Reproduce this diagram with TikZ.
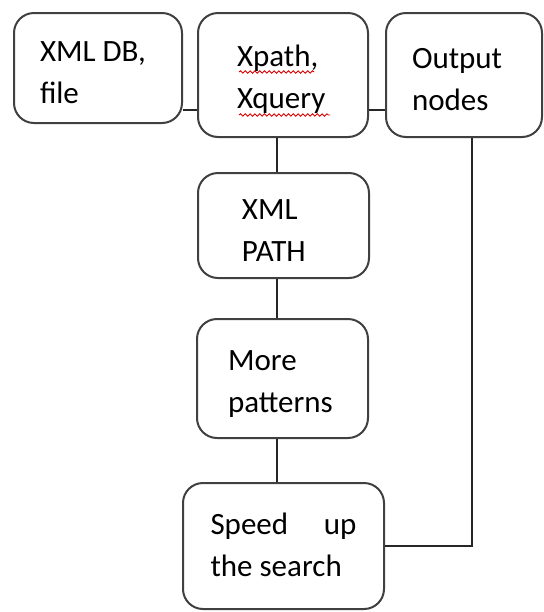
\documentclass[tikz,border=0pt]{standalone}
\usepackage{fontspec}
\setmainfont{Carlito}
\usetikzlibrary{decorations.pathmorphing}
\begin{document}
\begin{tikzpicture}[x=0.5pt,y=-0.5pt,
                box/.style={rectangle,rounded corners=10pt,draw=black!75,line width=1pt,
                align=flush left,inner sep=0pt,font=\fontsize{15.5}{21}\selectfont,
                execute at begin node={\hyphenpenalty=10000\rule{0pt}{15pt}}},
                link/.style={draw=black!85,line width=0.8pt},
                spell/.style={draw=red!85!black,line width=0.45pt,
                decorate,decoration={snake,amplitude=0.6pt,segment length=2.4pt}}]
                \useasboundingbox (0,0) rectangle (544,612);
                \node (db) at (98,68) [box,minimum width=84pt,minimum height=55pt,
                text width=58pt] {XML DB,\\file};
                \node (xpath) at (283,75) [box,minimum width=85pt,minimum height=62pt,
                text width=46pt] {Xpath,\\Xquery};
                \node (out) at (464,75) [box,minimum width=78pt,minimum height=62pt,
                text width=52pt] {Output\\nodes};
                \node (xmlpath) at (283.5,225.5) [box,minimum width=85.5pt,minimum height=52.5pt,
                text width=41.5pt] {XML\\PATH};
                \node (more) at (282.5,378.5) [box,minimum width=85.5pt,minimum height=59.5pt,
                text width=54.5pt] {More\\patterns};
                \node (speed) at (283.5,546) [box,minimum width=100.5pt,minimum height=63pt,
                text width=73pt] {Speed\hfill up\\the search\rule[-6pt]{0pt}{0pt}};
                % links along the top row
                \draw[link] (db.east |- 0,110) -- (xpath.west |- 0,110);
                \draw[link] (xpath.east |- 0,110) -- (out.west |- 0,110);
                % the chain down the middle
                \draw[link] (xpath.south -| 277,0) -- (xmlpath.north -| 277,0);
                \draw[link] (xmlpath.south -| 277,0) -- (more.north -| 277,0);
                \draw[link] (more.south -| 277,0) -- (speed.north -| 277,0);
                \draw[link] (out.south -| 472,0) |- (speed.east);
                % spell check marks
                \draw[spell] (239,72) -- (314,72);
                \draw[spell] (239,115) -- (330,115);
            \end{tikzpicture}
\end{document}
